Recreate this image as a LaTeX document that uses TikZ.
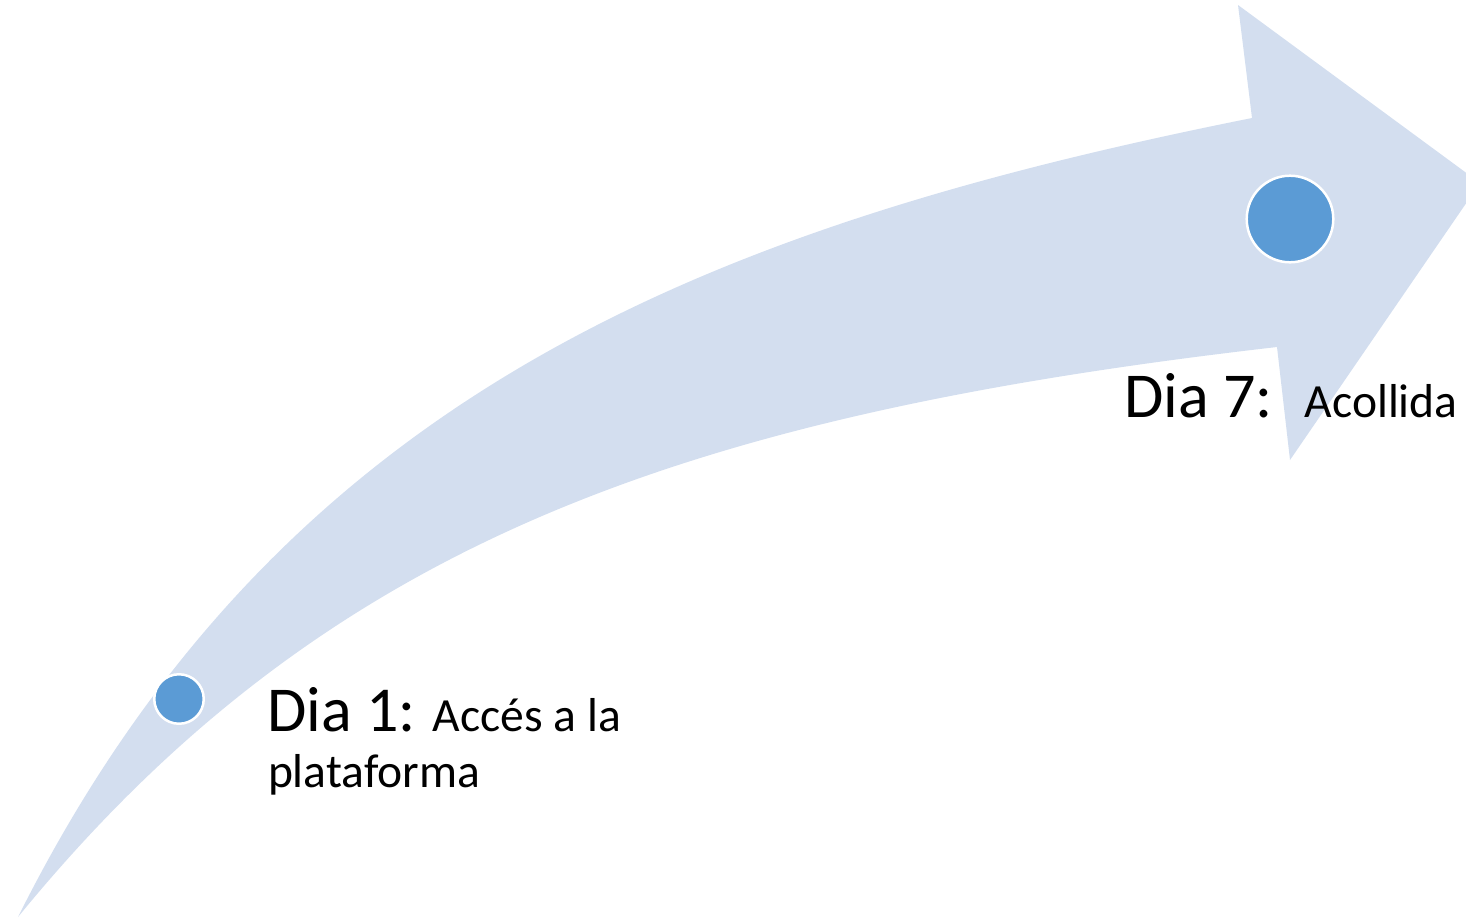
\documentclass[tikz,border=0pt]{standalone}
\usepackage{fontspec}
\setmainfont{Carlito}
\definecolor{bandblue}{HTML}{D3DEEF}
\definecolor{dotblue}{HTML}{5B9BD5}
\tikzset{
  band/.style={fill=bandblue},
  dot/.style={circle, fill=dotblue, draw=white, line width=1.25pt, inner sep=0pt},
  lbl/.style={anchor=base west, inner sep=0pt, outer sep=0pt, text=black, font=\fontsize{23.8}{28}\selectfont}
}
\begin{document}
\begin{tikzpicture}[x=0.5pt,y=-0.5pt]
\useasboundingbox (0,0) rectangle (1466,917);
\begin{scope}
\clip (0,0) rectangle (1466,917);
\fill[band] (18,917) .. controls (278,397) and (702,228) .. (1252,118)
  -- (1238,5) -- (1480,183) -- (1290,460) -- (1277,347)
  .. controls (677,416) and (322,545) .. (18,917) -- cycle;
\end{scope}
\node[dot, minimum size=24.75pt] (d1) at (179,699) {};
\node[dot, minimum size=43.3pt] (d7) at (1290,219) {};
\node[lbl] (t1) at (267,731) {{\fontsize{32}{37}\selectfont Dia 1:}\hspace{8.5pt}Accés a la};
\node[lbl] (t1b) at (268,787) {plataforma};
\node[lbl] (t7) at (1124,417) {{\fontsize{32}{37}\selectfont Dia 7:}\hspace{16pt}Acollida};
\end{tikzpicture}
\end{document}
